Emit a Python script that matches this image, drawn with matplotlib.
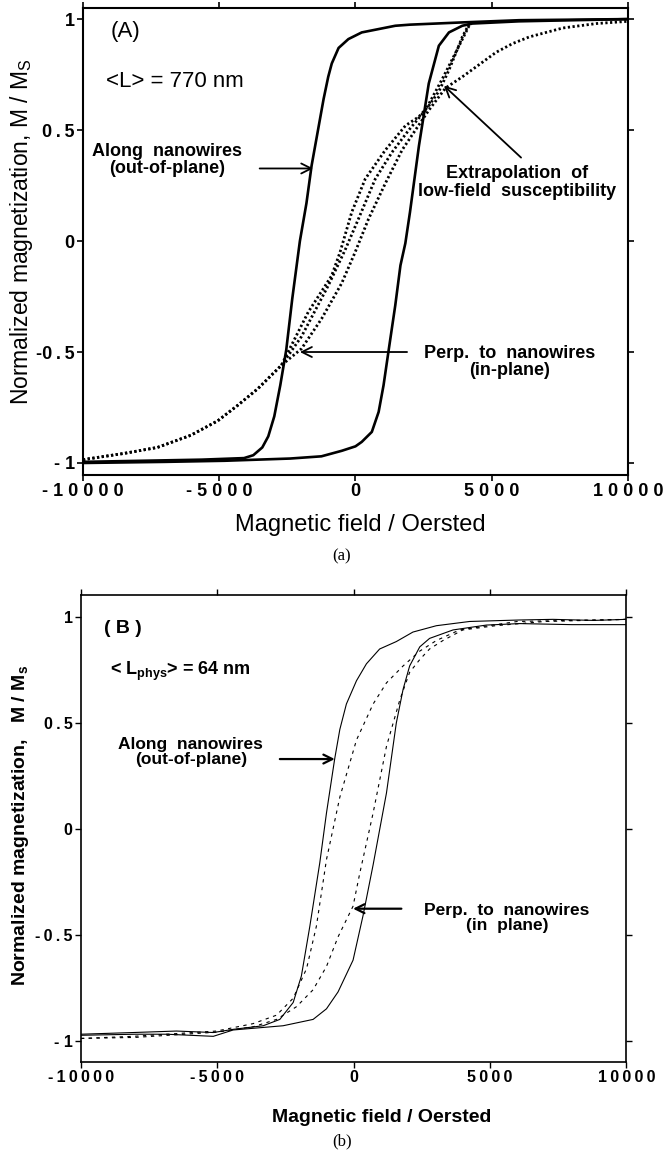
import matplotlib
matplotlib.use("Agg")
import matplotlib.pyplot as plt

plt.rcParams['font.family'] = ['Liberation Sans', 'DejaVu Sans']
plt.rcParams['mathtext.fontset'] = 'custom'
plt.rcParams['mathtext.rm'] = 'Liberation Sans'
plt.rcParams['mathtext.bf'] = 'Liberation Sans:bold'

# ---- panel (A): <L> = 770 nm ----
a_out_down_h = [10000, 6000, 3900, 2000, 1460, 230, -260, -620, -870, -1000, -1170, -1390, -1610,
                -1800, -2040, -2320, -2540, -2760, -2980, -3200, -3420, -3750, -4090, -5640, -10000]
a_out_down_m = [1.0, 0.995, 0.985, 0.975, 0.97, 0.94, 0.91, 0.87, 0.80, 0.74, 0.64, 0.49, 0.34,
                0.17, 0.0, -0.26, -0.49, -0.65, -0.79, -0.88, -0.93, -0.965, -0.978, -0.985, -0.995]
a_out_up_h = [-10000, -7000, -4800, -2400, -1250, -500, 0, 230, 600, 850, 1030, 1220, 1460,
              1650, 1830, 2000, 2330, 2690, 3060, 3430, 3920, 4290, 6000, 10000]
a_out_up_m = [-1.0, -0.995, -0.99, -0.98, -0.97, -0.945, -0.925, -0.905, -0.86, -0.77, -0.65, -0.49, -0.29,
              -0.11, -0.01, 0.13, 0.43, 0.71, 0.88, 0.94, 0.97, 0.98, 0.99, 1.0]

# in-plane (dotted)
a_tail_h = [-10000, -8500, -7270, -6040, -5055, -4320, -3580, -3090, -2720]
a_tail_m = [-0.985, -0.957, -0.93, -0.875, -0.81, -0.74, -0.665, -0.605, -0.56]
a_left_h = [-1734, -874, -565, -137, 358, 1096, 1834, 2325, 2694, 3062, 3430, 3922, 4200]
a_left_m = [-0.32, -0.156, -0.05, 0.13, 0.28, 0.41, 0.52, 0.56, 0.61, 0.675, 0.77, 0.92, 0.985]
a_mid_h = [-2720, -1980, -996, -380, 110, 727, 1340, 1956, 2570, 3185, 3680, 4170]
a_mid_m = [-0.56, -0.43, -0.20, -0.04, 0.10, 0.28, 0.40, 0.50, 0.59, 0.73, 0.85, 0.97]
a_right_h = [-1980, -1243, -505, -12, 480, 1096, 1710, 2200, 2694, 3185, 3310, 3922, 4540,
             5155, 5770, 6385, 7610, 8845, 10000]
a_right_m = [-0.485, -0.35, -0.19, -0.05, 0.10, 0.26, 0.41, 0.50, 0.59, 0.67, 0.69, 0.74, 0.795,
             0.85, 0.89, 0.92, 0.96, 0.98, 0.99]

# ---- panel (B): <L_phys> = 64 nm ----
b_out_down_h = [10000, 8800, 7300, 6080, 4250, 3030, 2170, 1560, 950, 465, 100, -270, -510, -700,
                -1000, -1245, -1610, -1920, -2220, -2710, -3320, -4420, -5150, -6500, -8080, -10000]
b_out_down_m = [0.99, 0.985, 0.99, 0.987, 0.98, 0.96, 0.93, 0.885, 0.85, 0.78, 0.70, 0.59, 0.47, 0.33,
                0.075, -0.16, -0.46, -0.695, -0.82, -0.90, -0.93, -0.947, -0.962, -0.955, -0.962, -0.97]
b_out_up_h = [-10000, -8000, -6860, -5150, -4420, -2590, -1490, -1000, -575, -25, 340, 710, 1200,
              1560, 1810, 2050, 2420, 2780, 3640, 4860, 6080, 8000, 10000]
b_out_up_m = [-0.975, -0.97, -0.97, -0.98, -0.95, -0.93, -0.90, -0.85, -0.77, -0.62, -0.41, -0.17, 0.17,
              0.50, 0.66, 0.77, 0.86, 0.90, 0.94, 0.963, 0.97, 0.965, 0.965]
b_in_down_h = [10000, 6000, 3880, 3030, 2420, 1810, 1200, 710, 100, -510, -1000, -1370, -1730,
               -2220, -2830, -3690, -5030, -8080, -10000]
b_in_down_m = [0.99, 0.98, 0.94, 0.89, 0.84, 0.77, 0.69, 0.59, 0.42, 0.15, -0.145, -0.46, -0.66,
               -0.80, -0.88, -0.92, -0.955, -0.98, -0.99]
b_in_up_h = [-10000, -8000, -5000, -3690, -2830, -2100, -1490, -1000, -575, -25, 220, 710, 1200,
             1690, 2050, 2420, 2780, 3270, 4000, 5200, 7000, 10000]
b_in_up_m = [-0.99, -0.985, -0.96, -0.935, -0.90, -0.84, -0.76, -0.65, -0.51, -0.365, -0.21, 0.075, 0.39,
             0.61, 0.74, 0.80, 0.85, 0.89, 0.94, 0.96, 0.98, 0.99]

x_ticks = [-10000, -5000, 0, 5000, 10000]
y_ticks = [-1, -0.5, 0, 0.5, 1]
y_ticklabels = ['- 1', '-0.5', '0', '0.5', '1']


def spaced(s, sep):
    return sep.join(s.replace(' ', ''))


fig = plt.figure(figsize=(6.65, 11.61), dpi=100)
axA = fig.add_axes([0.1248, 0.5909, 0.8195, 0.4022])
axB = fig.add_axes([0.1218, 0.0855, 0.8203, 0.4020])

# panel A
dot = (0, (0.8, 0.9))
axA.plot(a_out_down_h, a_out_down_m, color='black', lw=1.9)
axA.plot(a_out_up_h, a_out_up_m, color='black', lw=1.9)
axA.plot(a_tail_h + a_left_h, a_tail_m + a_left_m, color='black', lw=2.0, ls=dot)
axA.plot(a_mid_h, a_mid_m, color='black', lw=2.0, ls=dot)
axA.plot(a_tail_h + a_right_h, a_tail_m + a_right_m, color='black', lw=2.0, ls=dot)

axA.set_xlim(-10000, 10000)
axA.set_ylim(-1.054, 1.05)
axA.set_xticks(x_ticks)
axA.set_xticklabels([spaced(str(t), ' ') for t in x_ticks], fontweight='bold', fontsize=13)
axA.set_yticks(y_ticks)
axA.set_yticklabels([t.replace('.', '\u2009.\u2009') for t in y_ticklabels],
                    fontweight='bold', fontsize=13)
axA.tick_params(direction='out', length=4, width=1.2, pad=2, top=True, right=True)
for s in axA.spines.values():
    s.set_linewidth(1.5)

arr = dict(arrowstyle='->', lw=1.3, color='black', shrinkA=0, shrinkB=0, mutation_scale=18)
axA.text(-8440, 0.945, '(A)', fontsize=16, ha='center', va='center')
axA.text(-9170, 0.72, '<L> = 770 nm', fontsize=16, ha='left', va='center')
axA.text(-6900, 0.364, 'Along  nanowires\n(out-of-plane)', fontsize=13, fontweight='bold',
         ha='center', va='center', linespacing=1.0)
axA.annotate('', xy=(-1550, 0.327), xytext=(-3517, 0.327), arrowprops=arr)
axA.text(5940, 0.265, 'Extrapolation  of\nlow-field  susceptibility', fontsize=13, fontweight='bold',
         ha='center', va='center', linespacing=1.05)
axA.annotate('', xy=(3247, 0.70), xytext=(6077, 0.376), arrowprops=arr)
axA.text(5646, -0.544, 'Perp.  to  nanowires\n(in-plane)', fontsize=13, fontweight='bold',
         ha='center', va='center', linespacing=1.0)
axA.annotate('', xy=(-2040, -0.50), xytext=(1893, -0.50), arrowprops=arr)

fig.text(22 / 665, 1 - 232 / 1161, 'Normalized magnetization, M / M$_\\mathregular{S}$',
         rotation=90, ha='center', va='center', fontsize=16.5)
fig.text(360 / 665, 1 - 525 / 1161, 'Magnetic field / Oersted', ha='center', va='center', fontsize=17)
fig.text(342 / 665, 1 - 556 / 1161, '(a)', ha='center', va='center', fontsize=12,
         family='Liberation Serif')

# panel B
dash = (0, (3, 4))
axB.plot(b_out_down_h, b_out_down_m, color='black', lw=0.8)
axB.plot(b_out_up_h, b_out_up_m, color='black', lw=0.8)
axB.plot(b_in_down_h, b_in_down_m, color='black', lw=0.8, ls=dash)
axB.plot(b_in_up_h, b_in_up_m, color='black', lw=0.8, ls=dash)

axB.set_xlim(-10000, 10000)
axB.set_ylim(-1.1, 1.105)
axB.set_xticks(x_ticks)
axB.set_xticklabels([spaced(str(t), '\u2009') for t in x_ticks], fontweight='bold', fontsize=11.5)
axB.set_yticks(y_ticks)
axB.set_yticklabels([spaced(t, '\u2009') if t != '- 1' else t for t in y_ticklabels],
                    fontweight='bold', fontsize=11.5)
axB.tick_params(direction='out', length=4, width=1.0, pad=2, top=True, right=True)
for s in axB.spines.values():
    s.set_linewidth(1.2)

arrB = dict(arrowstyle='->', lw=1.6, color='black', shrinkA=0, shrinkB=0, mutation_scale=16)
axB.text(-8450, 0.948, '( B )', fontsize=14, fontweight='bold', ha='center', va='center')
axB.text(-8940, 0.745, '< L$_\\mathbf{phys}$> = 64 nm', fontsize=13, fontweight='bold',
         ha='left', va='center')
axB.text(-5978, 0.365, 'Along  nanowires\n(out-of-plane)', fontsize=12.5, fontweight='bold',
         ha='center', va='center', linespacing=1.0)
axB.annotate('', xy=(-696, 0.33), xytext=(-2710, 0.33), arrowprops=arrB)
axB.text(5623, -0.42, 'Perp.  to  nanowires\n(in  plane)', fontsize=12.5, fontweight='bold',
         ha='center', va='center', linespacing=1.0)
axB.annotate('', xy=(-25, -0.377), xytext=(1746, -0.377), arrowprops=arrB)

fig.text(21 / 665, 1 - 825 / 1161, 'Normalized magnetization,   M / M$_\\mathbf{s}$',
         rotation=90, ha='center', va='center', fontsize=14, fontweight='bold')
fig.text(382 / 665, 1 - 1118 / 1161, 'Magnetic field / Oersted', ha='center', va='center',
         fontsize=14, fontweight='bold')
fig.text(342 / 665, 1 - 1141 / 1161, '(b)', ha='center', va='center', fontsize=12,
         family='Liberation Serif')

fig.savefig('out.png', dpi=100)
